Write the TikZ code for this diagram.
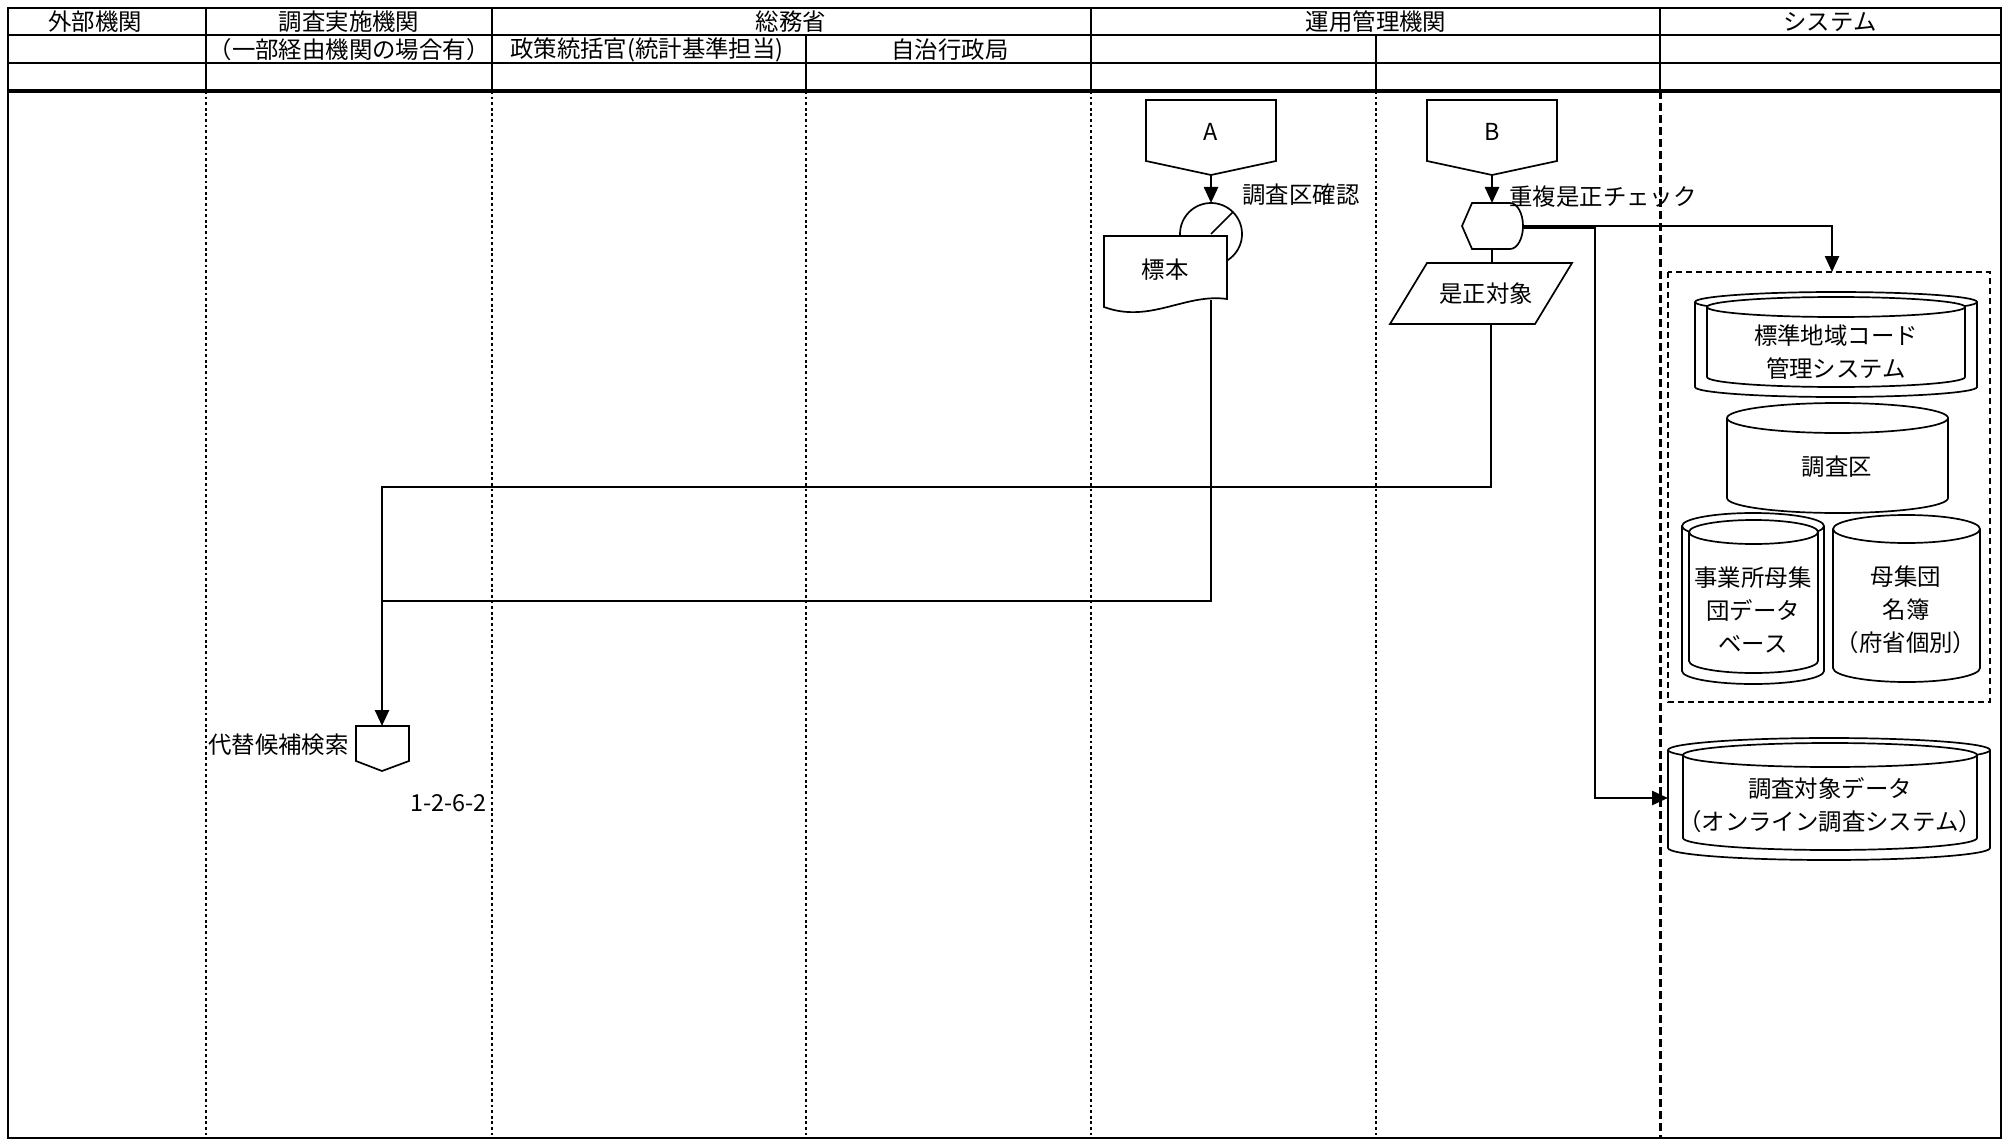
\documentclass[tikz,border=0pt]{standalone}
\usepackage{fontspec}
\setmainfont{Noto Sans CJK JP}
\usetikzlibrary{arrows.meta}
\newcommand\mycyl[5]{%
  \pgfmathsetmacro\cylrx{(#2-#1)/2}%
  \draw[shp] (#1,#3) -- (#1,#4) arc[start angle=180,end angle=0,x radius=\cylrx,y radius=#5] -- (#2,#3) arc[start angle=0,end angle=-180,x radius=\cylrx,y radius=#5] -- cycle;
  \draw[line width=0.85pt] (#1,#3) arc[start angle=180,end angle=0,x radius=\cylrx,y radius=#5];
}
\begin{document}
\begin{tikzpicture}[x=0.5pt,y=-0.5pt,
  every node/.style={font=\fontsize{11.7}{16.5}\selectfont, inner sep=0pt},
  frame/.style={line width=1.1pt},
  lanedot/.style={line width=1.4pt, dash pattern=on 1.4pt off 1.4pt},
  lanedash/.style={line width=1.5pt, dash pattern=on 4pt off 2pt},
  shp/.style={draw, line width=0.85pt, fill=white},
  conn/.style={line width=1.25pt},
  arr/.style={conn, -{Triangle[length=8pt,width=7pt]}},
  boxdash/.style={line width=0.85pt, dash pattern=on 3pt off 2pt},
]
\useasboundingbox (0,0) rectangle (2005,1139);
\fill[white] (0,0) rectangle (2005,1139);

% lane dividers in the body
\foreach \xx in {206,492,806,1091,1376} \draw[lanedot] (\xx,91) -- (\xx,1138);
\draw[lanedash] (1660,91) -- (1660,1138);

% header grid
\draw[frame] (8,35) -- (2001,35);
\draw[frame] (8,63) -- (2001,63);
\foreach \xx in {206,492,1091,1660} \draw[frame] (\xx,8) -- (\xx,91);
\foreach \xx in {806,1376} \draw[frame] (\xx,35) -- (\xx,91);
\draw[line width=2pt] (8,91) -- (2001,91);
\draw[line width=1.3pt] (8,8) rectangle (2001,1138);

% header texts
\node (h1) at (95,22) {外部機関};
\node (h2) at (349,22) {調査実施機関};
\node (h3) at (791,22) {総務省};
\node (h4) at (1376,22) {運用管理機関};
\node (h5) at (1830,22) {システム};
\node (s1) at (349,50) {（一部経由機関の場合有）};
\node (s2) at (647,50) {政策統括官(統計基準担当)};
\node (s3) at (950,50) {自治行政局};

% A branch
\draw[shp] (1146,100) -- (1276,100) -- (1276,161) -- (1211,175) -- (1146,161) -- cycle;
\node (A) at (1211,132) {A};
\coordinate (Atip) at (1211,175);
\draw[shp] (1211,234) circle (31);
\coordinate (Ctop) at (1211,203);
\draw[line width=0.85pt] (1211,234) -- (1233,212);
\node (lab1) at (1301,195) {調査区確認};
\draw[shp] (1104,236) -- (1227,236) -- (1227,299) .. controls (1185,293) and (1150,324) .. (1104,307) -- cycle;
\node (doc) at (1165,270) {標本};
\coordinate (Dbot) at (1211,300);
\draw[arr] (Atip) -- (Ctop);

% B branch
\draw[shp] (1427,100) -- (1557,100) -- (1557,161) -- (1492,175) -- (1427,161) -- cycle;
\node (B) at (1492,132) {B};
\coordinate (Btip) at (1492,175);
\draw[shp] (1462,226) -- (1472,203) -- (1510,203) arc[start angle=-90,end angle=90,x radius=13,y radius=23] -- (1472,249) -- cycle;
\coordinate (Stop) at (1492,203);
\coordinate (Sbot) at (1492,249);
\coordinate (Sright) at (1523,226);
\coordinate (Sright2) at (1523,228);
\node (lab2) at (1603,197) {重複是正チェック};
\draw[shp] (1427,263) -- (1572,263) -- (1535,324) -- (1390,324) -- cycle;
\node (par) at (1486,294) {是正対象};
\coordinate (Ptop) at (1492,263);
\coordinate (Pbot) at (1491,324);
\draw[arr] (Btip) -- (Stop);
\draw[conn] (Sbot) -- (Ptop);

% target in 調査実施機関
\draw[shp] (356,726) -- (409,726) -- (409,761) -- (382,771) -- (356,761) -- cycle;
\coordinate (Ttop) at (382,726);
\node[anchor=east] (tlab) at (349,745) {代替候補検索};
\node[anchor=east] (ref) at (487,803) {1-2-6-2};

\coordinate (J1) at (382,487);
\coordinate (J2) at (382,601);
\draw[arr] (Pbot) |- (J1) -- (Ttop);
\draw[conn] (Dbot) |- (J2);

% system box
\draw[boxdash] (1668,272) rectangle (1990,702);
\coordinate (BoxTop) at (1832,272);
\coordinate (K1) at (1832,226);
\draw[arr] (Sright) -- (K1) -- (BoxTop);

\mycyl{1695}{1977}{302}{387}{10}
\mycyl{1707}{1965}{307}{377}{10}
\node[align=center] (c1) at (1836,352) {標準地域コード\\管理システム};
\mycyl{1727}{1948}{418}{498}{15}
\node (c2) at (1837,467) {調査区};
\mycyl{1682}{1824}{526}{671}{13}
\mycyl{1689}{1818}{532}{661}{12}
\node[align=center] (c3) at (1753,610) {事業所母集\\団データ\\ベース};
\mycyl{1833}{1980}{529}{668}{14}
\node[align=center] (c4) at (1906,610) {母集団\\名簿\\（府省個別）};

\mycyl{1668}{1990}{750}{848}{12}
\mycyl{1683}{1977}{755}{838}{12}
\node[align=center] (c5) at (1830,805) {調査対象データ\\（オンライン調査システム）};
\coordinate (C5left) at (1668,798);
\coordinate (K2) at (1595,228);
\draw[arr] (Sright2) -- (K2) |- (C5left);
\end{tikzpicture}
\end{document}
